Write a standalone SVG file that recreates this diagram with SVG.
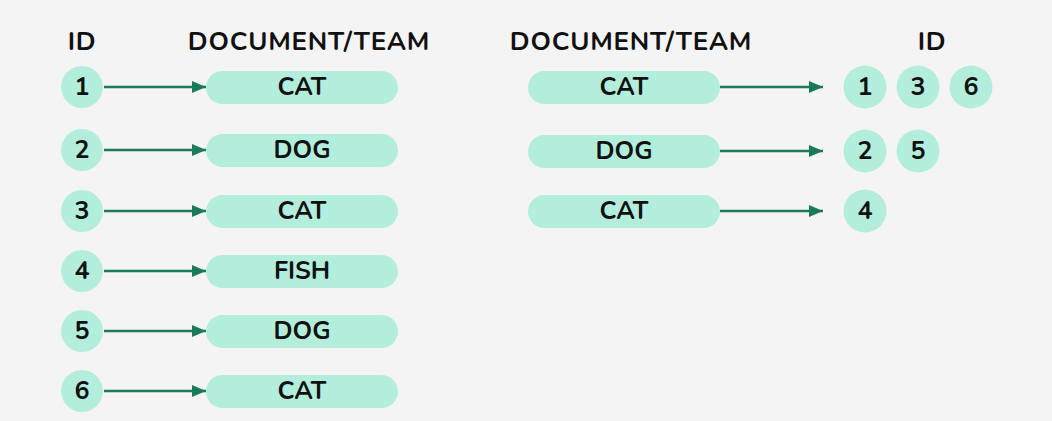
<svg xmlns="http://www.w3.org/2000/svg" width="1052" height="421" viewBox="0 0 1052 421">
<defs>
<style>
.bg{fill:#f4f4f4}
.n{fill:#b3eedc}
.t{font-family:"Nunito","Noto Sans","Liberation Sans",sans-serif;font-weight:700;font-size:25px;fill:#111;text-anchor:middle;dominant-baseline:central}
.h{font-family:"Nunito","Noto Sans","Liberation Sans",sans-serif;font-weight:700;font-size:26px;fill:#111;text-anchor:middle;letter-spacing:0.8px}
.c{stroke:#1b7a5a;stroke-width:2.5;fill:none}
</style>
<marker id="ah" markerWidth="14" markerHeight="12" refX="14" refY="6" orient="auto" markerUnits="userSpaceOnUse">
<path d="M0,0 L14,6 L0,12 Z" fill="#1b7a5a"/>
</marker>
</defs>
<rect class="bg" width="1052" height="421"/>
<g id="headers">
<text class="h" x="82" y="50">ID</text>
<text class="h" x="309" y="50">DOCUMENT/TEAM</text>
<text class="h" x="631" y="50">DOCUMENT/TEAM</text>
<text class="h" x="932" y="50">ID</text>
</g>
<g id="connectors">
<line class="c" x1="104" y1="87" x2="206" y2="87" marker-end="url(#ah)"/>
<line class="c" x1="104" y1="150" x2="206" y2="150" marker-end="url(#ah)"/>
<line class="c" x1="104" y1="211" x2="206" y2="211" marker-end="url(#ah)"/>
<line class="c" x1="104" y1="271" x2="206" y2="271" marker-end="url(#ah)"/>
<line class="c" x1="104" y1="331" x2="206" y2="331" marker-end="url(#ah)"/>
<line class="c" x1="104" y1="391" x2="206" y2="391" marker-end="url(#ah)"/>
<line class="c" x1="720" y1="87" x2="823" y2="87" marker-end="url(#ah)"/>
<line class="c" x1="720" y1="151" x2="823" y2="151" marker-end="url(#ah)"/>
<line class="c" x1="720" y1="211" x2="823" y2="211" marker-end="url(#ah)"/>
</g>
<g id="id1"><circle class="n" cx="82" cy="87" r="21"/><text class="t" x="82" y="87">1</text></g>
<g id="id2"><circle class="n" cx="82" cy="150" r="21"/><text class="t" x="82" y="150">2</text></g>
<g id="id3"><circle class="n" cx="82" cy="211" r="21"/><text class="t" x="82" y="211">3</text></g>
<g id="id4"><circle class="n" cx="82" cy="271" r="21"/><text class="t" x="82" y="271">4</text></g>
<g id="id5"><circle class="n" cx="82" cy="331" r="21"/><text class="t" x="82" y="331">5</text></g>
<g id="id6"><circle class="n" cx="82" cy="391" r="21"/><text class="t" x="82" y="391">6</text></g>
<g id="doc1"><rect class="n" x="206" y="71" width="192" height="33" rx="16.5"/><text class="t" x="302" y="87">CAT</text></g>
<g id="doc2"><rect class="n" x="206" y="134" width="192" height="33" rx="16.5"/><text class="t" x="302" y="150">DOG</text></g>
<g id="doc3"><rect class="n" x="206" y="195" width="192" height="33" rx="16.5"/><text class="t" x="302" y="211">CAT</text></g>
<g id="doc4"><rect class="n" x="206" y="255" width="192" height="33" rx="16.5"/><text class="t" x="302" y="271">FISH</text></g>
<g id="doc5"><rect class="n" x="206" y="315" width="192" height="33" rx="16.5"/><text class="t" x="302" y="331">DOG</text></g>
<g id="doc6"><rect class="n" x="206" y="375" width="192" height="33" rx="16.5"/><text class="t" x="302" y="391">CAT</text></g>
<g id="team1"><rect class="n" x="528" y="71" width="192" height="33" rx="16.5"/><text class="t" x="624" y="87">CAT</text></g>
<g id="team2"><rect class="n" x="528" y="135" width="192" height="33" rx="16.5"/><text class="t" x="624" y="151">DOG</text></g>
<g id="team3"><rect class="n" x="528" y="195" width="192" height="33" rx="16.5"/><text class="t" x="624" y="211">CAT</text></g>
<g id="r1"><circle class="n" cx="865" cy="87" r="21.5"/><text class="t" x="865" y="87">1</text></g>
<g id="r3"><circle class="n" cx="918" cy="87" r="21.5"/><text class="t" x="918" y="87">3</text></g>
<g id="r6"><circle class="n" cx="971" cy="87" r="21.5"/><text class="t" x="971" y="87">6</text></g>
<g id="r2"><circle class="n" cx="865" cy="151" r="21.5"/><text class="t" x="865" y="151">2</text></g>
<g id="r5"><circle class="n" cx="918" cy="151" r="21.5"/><text class="t" x="918" y="151">5</text></g>
<g id="r4"><circle class="n" cx="865" cy="211" r="21.5"/><text class="t" x="865" y="211">4</text></g>
</svg>
